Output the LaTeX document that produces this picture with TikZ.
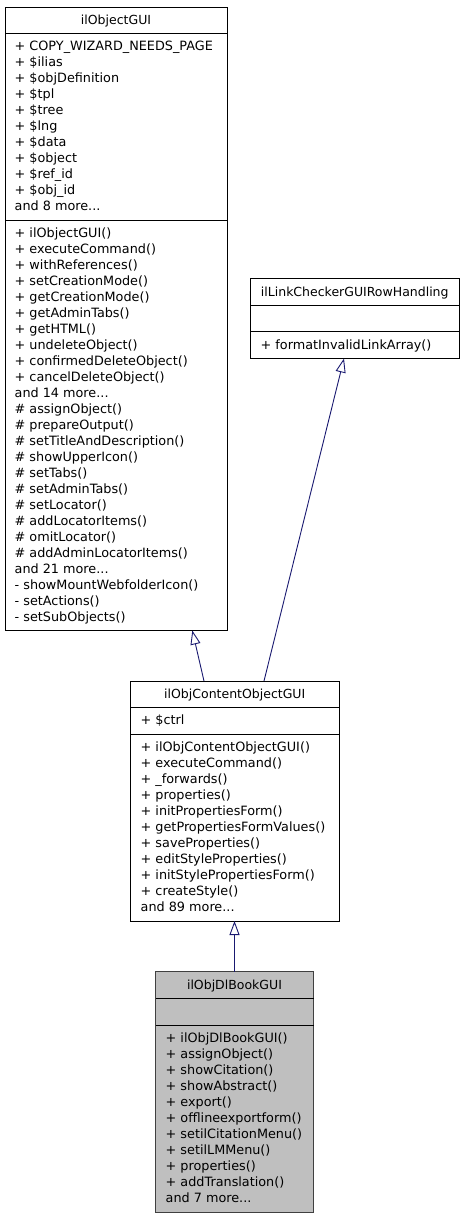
\documentclass[tikz,border=0pt]{standalone}
\usepackage{fontspec}
\setmainfont{DejaVu Sans}
\usetikzlibrary{arrows.meta}
\definecolor{edgeblue}{RGB}{25,25,112}
\definecolor{hlgray}{RGB}{191,191,191}
\newcommand{\mydots}{...}
\begin{document}
\begin{tikzpicture}[x=1pt,y=-1pt,
  box/.style={draw=black, line width=1pt, inner sep=0pt, outer sep=0pt, anchor=north west},
  sepline/.style={black, line width=1pt},
  ttl/.style={font=\fontsize{12.5}{15}\selectfont, anchor=base, inner sep=0pt},
  mem/.style={font=\fontsize{12.8}{15}\selectfont, anchor=base west, inner sep=0pt},
  inh/.style={draw=edgeblue, line width=0.9pt, -{Triangle[open,length=14pt,width=10pt]}}]
\useasboundingbox (0,0) rectangle (464,1219);

% ---- ilObjectGUI
\node[box, minimum width=222pt, minimum height=623pt] (obj) at (5,7) {};
\draw[sepline] (5,33) -- (227,33);
\draw[sepline] (5,220) -- (227,220);
\node[ttl] (objt) at (116,24.5) {ilObjectGUI};
\foreach \t [count=\i from 0] in {+ COPY\_WIZARD\_NEEDS\_PAGE, + \$ilias, + \$objDefinition, + \$tpl, + \$tree, + \$lng, + \$data, + \$object, + \$ref\_id, + \$obj\_id, and 8 more\mydots}
  \node[mem] (obja\i) at (14.5,50+16*\i) {\t};
\foreach \t [count=\i from 0] in {+ ilObjectGUI(), + executeCommand(), + withReferences(), + setCreationMode(), + getCreationMode(), + getAdminTabs(), + getHTML(), + undeleteObject(), + confirmedDeleteObject(), + cancelDeleteObject(), and 14 more\mydots, \# assignObject(), \# prepareOutput(), \# setTitleAndDescription(), \# showUpperIcon(), \# setTabs(), \# setAdminTabs(), \# setLocator(), \# addLocatorItems(), \# omitLocator(), \# addAdminLocatorItems(), and 21 more\mydots, - showMountWebfolderIcon(), - setActions(), - setSubObjects()}
  \node[mem] (objm\i) at (14.5,237+16*\i) {\t};

% ---- ilLinkCheckerGUIRowHandling
\node[box, minimum width=208.5pt, minimum height=80pt] (link) at (250.5,278) {};
\draw[sepline] (250.5,305) -- (459,305);
\draw[sepline] (250.5,331.5) -- (459,331.5);
\node[ttl] (linkt) at (354.75,296) {ilLinkCheckerGUIRowHandling};
\node[mem] (linkm0) at (260.5,349.5) {+ formatInvalidLinkArray()};

% ---- ilObjContentObjectGUI
\node[box, minimum width=208.5pt, minimum height=240pt] (cog) at (130.5,681) {};
\draw[sepline] (130.5,707.5) -- (339,707.5);
\draw[sepline] (130.5,734) -- (339,734);
\node[ttl] (cogt) at (234.75,698.5) {ilObjContentObjectGUI};
\node[mem] (coga0) at (140.5,724.5) {+ \$ctrl};
\foreach \t [count=\i from 0] in {+ ilObjContentObjectGUI(), + executeCommand(), + \_forwards(), + properties(), + initPropertiesForm(), + getPropertiesFormValues(), + saveProperties(), + editStyleProperties(), + initStylePropertiesForm(), + createStyle(), and 89 more\mydots}
  \node[mem] (cogm\i) at (140.5,751.5+16*\i) {\t};

% ---- ilObjDlBookGUI
\node[box, fill=hlgray, draw=black!75, minimum width=158pt, minimum height=241pt] (dl) at (155.5,971.5) {};
\draw[sepline] (155.5,998.5) -- (313.5,998.5);
\draw[sepline] (155.5,1025.5) -- (313.5,1025.5);
\node[ttl] (dlt) at (234.5,989.5) {ilObjDlBookGUI};
\foreach \t [count=\i from 0] in {+ ilObjDlBookGUI(), + assignObject(), + showCitation(), + showAbstract(), + export(), + offlineexportform(), + setilCitationMenu(), + setilLMMenu(), + properties(), + addTranslation(), and 7 more\mydots}
  \node[mem] (dlm\i) at (165.5,1042.8+16*\i) {\t};

% ---- connector end points
\coordinate (cogA) at (204,681);
\coordinate (objA) at (192.3,630.5);
\coordinate (cogB) at (264,681);
\coordinate (linkA) at (344,358.5);

% ---- inheritance connectors
\draw[inh] (dl.north) -- (dl.north |- cog.south);
\draw[inh] (cogA) -- (objA);
\draw[inh] (cogB) -- (linkA);
\end{tikzpicture}
\end{document}
